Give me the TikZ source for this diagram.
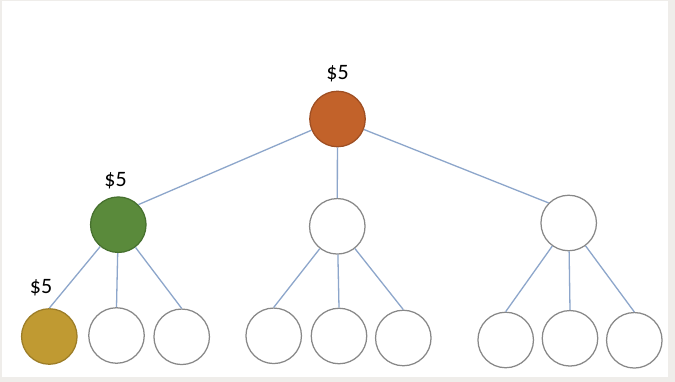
\documentclass[tikz,border=0pt]{standalone}
\usepackage{fontspec}
\setmainfont{Carlito}
\definecolor{framegray}{HTML}{EFEDEA}
\definecolor{edgeblue}{HTML}{8DA6CB}
\definecolor{ringgray}{HTML}{888888}
\definecolor{rootorange}{HTML}{C2622A}
\definecolor{rootedge}{HTML}{9E4E22}
\definecolor{leafgreen}{HTML}{5A8A3B}
\definecolor{greenedge}{HTML}{46702E}
\definecolor{leafgold}{HTML}{C09A32}
\definecolor{goldedge}{HTML}{9C7D27}
\tikzset{
  tnode/.style={circle, minimum size=55.5pt, inner sep=0pt, line width=1.25pt},
  emptynode/.style={tnode, draw=ringgray, fill=white},
  link/.style={draw=edgeblue, line width=1.3pt},
  price/.style={font=\fontsize{22}{26}\selectfont, text=black, inner sep=0pt}
}
\begin{document}
\begin{tikzpicture}[x=1pt,y=-1pt]
\fill[framegray] (0,0) rectangle (675,382);
\fill[white] (2,1) rectangle (668,377);
\useasboundingbox (0,0) rectangle (675,382);
% nodes
\node[tnode, draw=rootedge, fill=rootorange] (root) at (337.5,119) {};
\node[tnode, draw=greenedge, fill=leafgreen] (g) at (118.3,224.7) {};
\node[emptynode] (m) at (337.3,226.3) {};
\node[emptynode] (r) at (568.7,223) {};
\node[tnode, draw=goldedge, fill=leafgold] (y) at (49.3,336.5) {};
\node[emptynode] (w1) at (116.5,335.5) {};
\node[emptynode] (w2) at (181.7,336.8) {};
\node[emptynode] (m1) at (273.7,335.8) {};
\node[emptynode] (m2) at (339,336) {};
\node[emptynode] (m3) at (403.3,338) {};
\node[emptynode] (r1) at (505.7,340) {};
\node[emptynode] (r2) at (570,338.3) {};
\node[emptynode] (r3) at (634.3,340.3) {};
% labels
\node[price] (lroot) at (337.5,74) {\$5};
\node[price] (lg) at (115.5,180.5) {\$5};
\node[price] (ly) at (41,288) {\$5};
% connectors
\draw[link] (root) -- (g.north east);
\draw[link] (root) -- (m.north);
\draw[link] (root) -- (r.north west);
\draw[link] (g) -- (y.north);
\draw[link] (g) -- (w1.north);
\draw[link] (g) -- (w2.north);
\draw[link] (m) -- (m1.north);
\draw[link] (m) -- (m2.north);
\draw[link] (m) -- (m3.north);
\draw[link] (r) -- (r1.north);
\draw[link] (r) -- (r2.north);
\draw[link] (r) -- (r3.north);
\end{tikzpicture}
\end{document}
